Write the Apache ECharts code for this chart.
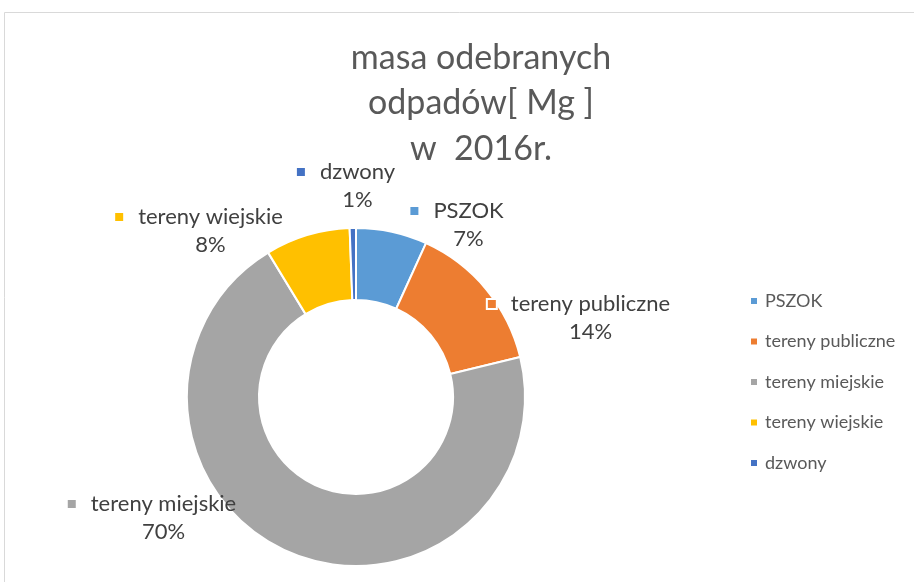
<!DOCTYPE html>
<html>
<head>
<meta charset="utf-8">
<script src="https://cdn.jsdelivr.net/npm/echarts@6/dist/echarts.min.js"></script>
<style>
  html, body { margin: 0; padding: 0; background: #fff; }
  #chart { width: 914px; height: 582px; }
</style>
</head>
<body>
<div id="chart"></div>
<script>
// udział w masie odebranych odpadów (%)
const categories = ['PSZOK', 'tereny publiczne', 'tereny miejskie', 'tereny wiejskie', 'dzwony'];
const shares = [6.8, 14.4, 70.1, 8.1, 0.6];
const colors = ['#5B9BD5', '#ED7D31', '#A5A5A5', '#FFC000', '#4472C4'];
const titleText = 'masa odebranych\nodpadów[ Mg ]\nw  2016r.';

// label block centres (px)
const labelPos = [[457, 225], [579, 318], [152, 518], [199, 231], [346, 186]];

const font = 'Lato, "Open Sans", sans-serif';

const rich = {
    n: { fontSize: 22, color: '#404040', fontFamily: font, lineHeight: 28 },
    p: { fontSize: 22, color: '#404040', fontFamily: font, lineHeight: 28 },
    s: { width: 23, height: 8 },
    g: { width: 15, height: 8 }
};
colors.forEach((c, i) => {
    rich['m' + i] = {
        width: 8, height: 8, backgroundColor: c,
        borderColor: i === 1 ? '#fff' : 'transparent', borderWidth: i === 1 ? 2 : 0
    };
});

const myChart = echarts.init(document.getElementById('chart'));
const option = {
    backgroundColor: '#fff',
    color: colors,
    graphic: [{
        type: 'rect',
        shape: { x: 4.5, y: 12.5, width: 1000, height: 1000 },
        style: { fill: 'none', stroke: '#d9d9d9', lineWidth: 1 },
        silent: true
    }],
    title: {
        text: titleText,
        left: 476,
        top: 30,
        textAlign: 'center',
        textStyle: {
            fontFamily: font,
            fontWeight: 'normal',
            fontSize: 34,
            lineHeight: 45.5,
            color: '#595959'
        }
    },
    legend: {
        orient: 'vertical',
        left: 749,
        top: 292,
        padding: 0,
        icon: 'rect',
        itemWidth: 8,
        itemHeight: 8,
        itemGap: 22.5,
        data: categories,
        textStyle: {
            fontFamily: font,
            fontSize: 18,
            lineHeight: 18,
            color: '#595959',
            padding: [0, 0, 0, 2]
        }
    },
    series: [{
        type: 'pie',
        center: [356, 397],
        radius: [97, 169],
        startAngle: 90,
        clockwise: true,
        percentPrecision: 0,
        avoidLabelOverlap: false,
        itemStyle: { borderColor: '#fff', borderWidth: 2 },
        label: {
            show: true,
            position: 'outside',
            align: 'center',
            formatter: (p) => `{m${p.dataIndex}|}{g|}{n|${p.name}}\n{s|}{p|${p.percent}%}`,
            rich: rich
        },
        labelLine: { show: false },
        labelLayout: (params) => {
            const pos = labelPos[params.dataIndex];
            return { x: pos[0], y: pos[1], align: 'center', verticalAlign: 'middle' };
        },
        emphasis: { disabled: true },
        data: categories.map((name, i) => ({ name: name, value: shares[i] }))
    }]
};
myChart.setOption(option);
</script>
</body>
</html>
